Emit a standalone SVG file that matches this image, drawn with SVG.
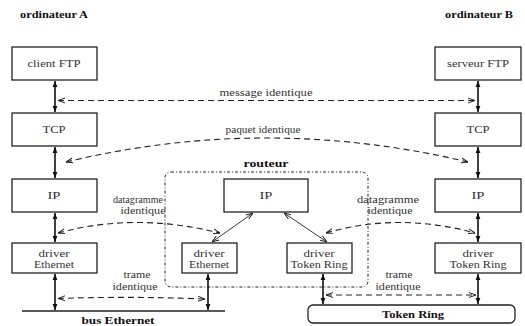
<svg xmlns="http://www.w3.org/2000/svg" width="525" height="326" viewBox="0 0 525 326">
<style>
text{font-family:"Liberation Serif","DejaVu Serif","Times New Roman",serif;font-size:10px;fill:#333;text-anchor:middle}
.b{font-weight:bold;fill:#111}
.box{fill:#fff;stroke:#222;stroke-width:1.3}
.sol{stroke:#111;stroke-width:1.6;fill:none;marker-start:url(#ah);marker-end:url(#ah)}
.diag{stroke:#222;stroke-width:0.9;fill:none;marker-start:url(#oh);marker-end:url(#oh)}
.dash{stroke:#222;stroke-width:1.1;fill:none;stroke-dasharray:6 4;marker-start:url(#oh);marker-end:url(#oh)}
.dot{stroke:#222;stroke-width:1;fill:none;stroke-dasharray:3 2 1 2}
</style>
<defs>
<marker id="ah" viewBox="0 0 10 10" refX="10" refY="5" markerWidth="6" markerHeight="6" markerUnits="userSpaceOnUse" orient="auto-start-reverse"><path d="M0,1 L10,5 L0,9 z" fill="#111"/></marker>
<marker id="oh" viewBox="0 0 10 10" refX="10" refY="5" markerWidth="7" markerHeight="7" markerUnits="userSpaceOnUse" orient="auto-start-reverse"><path d="M0,1.5 L10,5 L0,8.5" fill="none" stroke="#222" stroke-width="1.4"/></marker>
</defs>
<rect width="525" height="326" fill="#fff"/>

<text class="b" x="54" y="18" textLength="68" lengthAdjust="spacingAndGlyphs">ordinateur A</text>
<text class="b" x="479" y="18" textLength="68" lengthAdjust="spacingAndGlyphs">ordinateur B</text>

<g id="routeur">
<rect class="dot" x="165" y="172" width="203" height="115" rx="6"/>
<text class="b" x="266" y="167" textLength="45" lengthAdjust="spacingAndGlyphs">routeur</text>
</g>

<g id="clientFTP"><rect class="box" x="12" y="47" width="85" height="33"/><text x="54" y="67" textLength="53" lengthAdjust="spacingAndGlyphs">client FTP</text></g>
<g id="tcpA"><rect class="box" x="12" y="113" width="85" height="33"/><text x="54" y="133" textLength="23" lengthAdjust="spacingAndGlyphs">TCP</text></g>
<g id="ipA"><rect class="box" x="12" y="179" width="85" height="33"/><text x="54" y="199" textLength="13" lengthAdjust="spacingAndGlyphs">IP</text></g>
<g id="ethA"><rect class="box" x="12" y="243" width="85" height="30"/><text x="54" y="257" textLength="31" lengthAdjust="spacingAndGlyphs">driver</text><text x="54" y="268" textLength="40" lengthAdjust="spacingAndGlyphs">Ethernet</text></g>

<g id="serveurFTP"><rect class="box" x="435" y="47" width="86" height="33"/><text x="478" y="67" textLength="62" lengthAdjust="spacingAndGlyphs">serveur FTP</text></g>
<g id="tcpB"><rect class="box" x="435" y="113" width="86" height="33"/><text x="478" y="133" textLength="23" lengthAdjust="spacingAndGlyphs">TCP</text></g>
<g id="ipB"><rect class="box" x="435" y="179" width="86" height="33"/><text x="478" y="199" textLength="13" lengthAdjust="spacingAndGlyphs">IP</text></g>
<g id="trB"><rect class="box" x="435" y="243" width="86" height="30"/><text x="478" y="257" textLength="31" lengthAdjust="spacingAndGlyphs">driver</text><text x="478" y="268" textLength="57" lengthAdjust="spacingAndGlyphs">Token Ring</text></g>

<g id="ipR"><rect class="box" x="224" y="179" width="84" height="33"/><text x="266" y="199" textLength="13" lengthAdjust="spacingAndGlyphs">IP</text></g>
<g id="ethR"><rect class="box" x="182" y="243" width="55" height="30"/><text x="209" y="257" textLength="31" lengthAdjust="spacingAndGlyphs">driver</text><text x="209" y="268" textLength="40" lengthAdjust="spacingAndGlyphs">Ethernet</text></g>
<g id="trR"><rect class="box" x="287" y="243" width="65" height="30"/><text x="319" y="257" textLength="31" lengthAdjust="spacingAndGlyphs">driver</text><text x="319" y="268" textLength="57" lengthAdjust="spacingAndGlyphs">Token Ring</text></g>

<g id="busEthernet">
<line x1="22" y1="311" x2="225" y2="311" stroke="#222" stroke-width="1.3"/>
<text class="b" x="118" y="324" textLength="73" lengthAdjust="spacingAndGlyphs">bus Ethernet</text>
</g>
<g id="tokenRing">
<rect class="box" x="308" y="305" width="207" height="18" rx="5"/>
<text class="b" x="413" y="318" textLength="62" lengthAdjust="spacingAndGlyphs">Token Ring</text>
</g>

<g id="connectors">
<line class="sol" x1="55" y1="81" x2="55" y2="112"/>
<line class="sol" x1="55" y1="147" x2="55" y2="178"/>
<line class="sol" x1="55" y1="213" x2="55" y2="242"/>
<line class="sol" x1="55" y1="274" x2="55" y2="310"/>
<line class="sol" x1="478" y1="81" x2="478" y2="112"/>
<line class="sol" x1="478" y1="147" x2="478" y2="178"/>
<line class="sol" x1="478" y1="213" x2="478" y2="242"/>
<line class="sol" x1="478" y1="274" x2="478" y2="304"/>
<line class="sol" x1="208" y1="274" x2="208" y2="310"/>
<line class="sol" x1="323" y1="274" x2="323" y2="304"/>
<line class="diag" x1="253" y1="213" x2="212" y2="242"/>
<line class="diag" x1="284" y1="213" x2="327" y2="242"/>

<path class="dash" d="M58 100.5 L475 100.5"/>
<text x="266" y="96" textLength="93" lengthAdjust="spacingAndGlyphs">message identique</text>
<path class="dash" d="M66 162 Q266 114 468 162"/>
<text x="263" y="133" textLength="75" lengthAdjust="spacingAndGlyphs">paquet identique</text>
<path class="dash" d="M58 233 Q135 212 220 233"/>
<text x="138" y="203" textLength="50" lengthAdjust="spacingAndGlyphs">datagramme</text>
<text x="143" y="214" textLength="45" lengthAdjust="spacingAndGlyphs">identique</text>
<path class="dash" d="M326 233 Q398 212 475 233"/>
<text x="388" y="203" textLength="62" lengthAdjust="spacingAndGlyphs">datagramme</text>
<text x="390" y="214" textLength="45" lengthAdjust="spacingAndGlyphs">identique</text>
<path class="dash" d="M58 298.5 Q130 296 205 299"/>
<text x="137" y="278" textLength="27" lengthAdjust="spacingAndGlyphs">trame</text>
<text x="135" y="290" textLength="45" lengthAdjust="spacingAndGlyphs">identique</text>
<path class="dash" d="M326 295 L476 295"/>
<text x="399" y="278" textLength="27" lengthAdjust="spacingAndGlyphs">trame</text>
<text x="398" y="290" textLength="45" lengthAdjust="spacingAndGlyphs">identique</text>
</g>
</svg>
